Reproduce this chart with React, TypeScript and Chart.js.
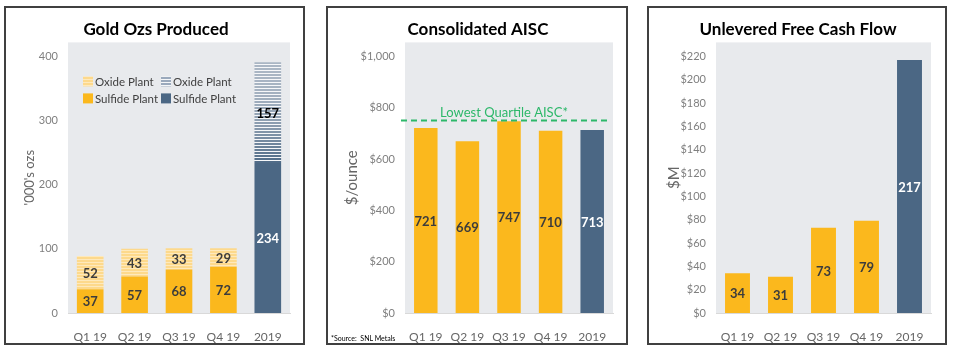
import React, { useEffect, useRef } from "react";
import { Chart, registerables } from "chart.js";

Chart.register(...registerables);

// ---------- data ----------
const categories = ["Q1 19", "Q2 19", "Q3 19", "Q4 19", "2019"];

const goldSulfideQuarter = [37, 57, 68, 72, null];
const goldOxideQuarter = [52, 43, 33, 29, null];
const goldSulfideYear = [null, null, null, null, 234];
const goldOxideYear = [null, null, null, null, 157];
const goldAxisMax = 421.8;
const goldStep = 100;

const aiscValues = [721, 669, 747, 710, 713];
const aiscQuartile = 750;
const aiscAxisMax = 1054;
const aiscStep = 200;

const fcfValues = [34, 31, 73, 79, 217];
const fcfAxisMax = 232;
const fcfStep = 20;

// ---------- styles ----------
const YELLOW = "#FBB81D";
const BLUE = "#4B6784";
const PLOT_BG = "#E8EAED";
const FONT = "Lato, 'Open Sans', sans-serif";
const TICK_COLOR = "#7F7F7F";
const XTICK_COLOR = "#666666";
const LABEL_DARK = "#3C3C3C";

function stripes(base: string, line: string, period = 3, lineH = 1) {
  const c = document.createElement("canvas");
  c.width = 8;
  c.height = period;
  const x = c.getContext("2d")!;
  x.fillStyle = base;
  x.fillRect(0, 0, 8, period);
  x.fillStyle = line;
  x.fillRect(0, period - lineH, 8, lineH);
  return x.createPattern(c, "repeat")!;
}

function mix(a: number[], b: number[], t: number) {
  const r = a.map((v, i) => Math.round(v + (b[i] - v) * t));
  return `rgb(${r[0]},${r[1]},${r[2]})`;
}

// stripes whose colour shifts from light (segment top) to dark (segment bottom)
function fadingStripes(chart: any, top: number, bottom: number) {
  const h = chart.height;
  const c = document.createElement("canvas");
  c.width = 8;
  c.height = h;
  const x = c.getContext("2d")!;
  x.fillStyle = "#F6F7F9";
  x.fillRect(0, 0, 8, h);
  const light = [170, 182, 196];
  const dark = [76, 104, 132];
  for (let y = 0; y < h; y += 3) {
    const t = Math.min(1, Math.max(0, (y - top) / Math.max(1, bottom - top)));
    x.fillStyle = mix(light, dark, Math.pow(t, 2.2));
    x.fillRect(0, y, 8, 2);
  }
  return x.createPattern(c, "repeat")!;
}

const plotBackground = {
  id: "plotBackground",
  beforeDraw(chart: any) {
    const { ctx, chartArea: a } = chart;
    ctx.save();
    ctx.fillStyle = PLOT_BG;
    ctx.fillRect(a.left, a.top, a.right - a.left, a.bottom - a.top);
    ctx.restore();
  },
};

const valueLabels = {
  id: "valueLabels",
  afterDatasetsDraw(chart: any) {
    const ctx = chart.ctx;
    ctx.save();
    ctx.font = `bold 13px ${FONT}`;
    ctx.textAlign = "center";
    ctx.textBaseline = "middle";
    chart.data.datasets.forEach((ds: any, di: number) => {
      const meta = chart.getDatasetMeta(di);
      if (meta.type !== "bar") return;
      meta.data.forEach((el: any, i: number) => {
        const v = ds.data[i];
        if (v == null) return;
        const { x, y, base } = el.getProps(["x", "y", "base"], true);
        const col = Array.isArray(ds.labelColor) ? ds.labelColor[i] : ds.labelColor;
        ctx.fillStyle = col || LABEL_DARK;
        ctx.fillText(String(v), x, (y + base) / 2 + 1);
      });
    });
    ctx.restore();
  },
};

const gridLegend = {
  id: "gridLegend",
  afterDraw(chart: any, _args: any, opts: any) {
    if (!opts || !opts.items) return;
    const { ctx, chartArea: a } = chart;
    ctx.save();
    ctx.font = `11.5px ${FONT}`;
    ctx.textBaseline = "middle";
    ctx.textAlign = "left";
    opts.items.forEach((it: any) => {
      const ds = chart.data.datasets[it.ds];
      const bx = a.left + opts.x + it.col * opts.colW;
      const by = a.top + opts.y + it.row * opts.rowH;
      ctx.fillStyle = ds.swatch;
      ctx.fillRect(bx, by, 10, 10);
      ctx.fillStyle = "#404040";
      ctx.fillText(ds.label, bx + 12, by + 5.5);
    });
    ctx.restore();
  },
};

const quartileLine = {
  id: "quartileLine",
  afterDatasetsDraw(chart: any, _args: any, opts: any) {
    if (!opts || opts.value == null) return;
    const { ctx, chartArea: a, scales } = chart;
    const y = scales.y.getPixelForValue(opts.value);
    ctx.save();
    ctx.strokeStyle = "#2DB86A";
    ctx.lineWidth = 2;
    ctx.setLineDash([6, 4]);
    ctx.beginPath();
    ctx.moveTo(a.left - 4, y);
    ctx.lineTo(a.right - 2, y);
    ctx.stroke();
    ctx.setLineDash([]);
    ctx.fillStyle = "#2DB86A";
    ctx.font = `13px ${FONT}`;
    ctx.textAlign = "center";
    ctx.textBaseline = "bottom";
    ctx.fillText(opts.text, (a.left + a.right) / 2 - 5, y - 1);
    ctx.restore();
  },
};

function baseOptions(p: {
  max: number;
  step: number;
  yTitle: string;
  yTitleSize: number;
  padLeft: number;
  yWidth: number;
  padRight: number;
  stacked: boolean;
  fmt: (v: number) => string;
  barPct: number;
  title: string;
}) {
  return {
    responsive: false,
    animation: false as const,
    layout: { padding: { left: p.padLeft, right: p.padRight, top: 0, bottom: 0 } },
    datasets: { bar: { categoryPercentage: 1, barPercentage: p.barPct } },
    plugins: {
      legend: { display: false },
      tooltip: { enabled: false },
      title: {
        display: true,
        text: p.title,
        color: "#000000",
        font: { family: FONT, size: 17, weight: "bold" as const },
        padding: { top: 11, bottom: 3 },
      },
    },
    scales: {
      x: {
        stacked: p.stacked,
        grid: { display: false },
        border: { display: true, color: "#D9D9D9" },
        ticks: { color: XTICK_COLOR, font: { family: FONT, size: 12 }, padding: 9 },
        afterFit: (s: any) => {
          s.height = 30;
        },
      },
      y: {
        stacked: p.stacked,
        min: 0,
        max: p.max,
        grid: { display: false, drawTicks: false },
        border: { display: false },
        ticks: {
          stepSize: p.step,
          includeBounds: false,
          color: TICK_COLOR,
          font: { family: FONT, size: 11 },
          padding: 10,
          callback: (v: any) => p.fmt(Number(v)),
        },
        title: {
          display: true,
          text: p.yTitle,
          color: "#666666",
          font: { family: FONT, size: p.yTitleSize },
          padding: 0,
        },
        afterFit: (s: any) => {
          s.width = p.yWidth;
        },
      },
    },
  };
}

function makeGold(): any {
  const yellowStripes = stripes("#FDD98C", "#FEE9BC");
  const blueSwatch = stripes("#9AA9BC", "#F4F6F8");
  return {
    type: "bar",
    data: {
      labels: categories,
      datasets: [
        { label: "Sulfide Plant", data: goldSulfideQuarter, backgroundColor: YELLOW, swatch: YELLOW, labelColor: LABEL_DARK },
        { label: "Oxide Plant", data: goldOxideQuarter, backgroundColor: yellowStripes, swatch: yellowStripes, labelColor: LABEL_DARK },
        { label: "Sulfide Plant", data: goldSulfideYear, backgroundColor: BLUE, swatch: BLUE, labelColor: "#FFFFFF" },
        {
          label: "Oxide Plant",
          data: goldOxideYear,
          swatch: blueSwatch,
          backgroundColor: (ctx: any) => {
            const chart = ctx.chart;
            const y = chart.scales && chart.scales.y;
            if (!y || !chart.chartArea) return blueSwatch;
            const i = goldOxideYear.length - 1;
            const lower = goldSulfideYear[i] as number;
            const upper = lower + (goldOxideYear[i] as number);
            return fadingStripes(chart, y.getPixelForValue(upper), y.getPixelForValue(lower));
          },
          labelColor: "#000000",
        },
      ],
    },
    options: {
      ...baseOptions({
        max: goldAxisMax,
        step: goldStep,
        yTitle: "'000's ozs",
        yTitleSize: 13,
        padLeft: 16,
        yWidth: 46,
        padRight: 13,
        stacked: true,
        fmt: (v) => String(v),
        barPct: 0.6,
        title: "Gold Ozs Produced",
      }),
    },
    plugins: [plotBackground, valueLabels, gridLegend],
  };
}

function withLegend(cfg: any) {
  cfg.options.plugins.gridLegend = {
    x: 15,
    y: 34,
    colW: 78,
    rowH: 17,
    items: [
      { ds: 1, col: 0, row: 0 },
      { ds: 3, col: 1, row: 0 },
      { ds: 0, col: 0, row: 1 },
      { ds: 2, col: 1, row: 1 },
    ],
  };
  return cfg;
}

function makeAisc(): any {
  const cfg: any = {
    type: "bar",
    data: {
      labels: categories,
      datasets: [
        {
          label: "AISC",
          data: aiscValues,
          backgroundColor: aiscValues.map((_, i) => (i === aiscValues.length - 1 ? BLUE : YELLOW)),
          labelColor: aiscValues.map((_, i) => (i === aiscValues.length - 1 ? "#FFFFFF" : LABEL_DARK)),
        },
      ],
    },
    options: baseOptions({
      max: aiscAxisMax,
      step: aiscStep,
      yTitle: "$/ounce",
      yTitleSize: 15,
      padLeft: 15,
      yWidth: 62,
      padRight: 13,
      stacked: false,
      fmt: (v) => "$" + v.toLocaleString("en-US"),
      barPct: 0.565,
      title: "Consolidated AISC",
    }),
    plugins: [plotBackground, valueLabels, quartileLine],
  };
  cfg.options.plugins.quartileLine = { value: aiscQuartile, text: "Lowest Quartile AISC*" };
  return cfg;
}

function makeFcf(): any {
  return {
    type: "bar",
    data: {
      labels: categories,
      datasets: [
        {
          label: "Unlevered FCF",
          data: fcfValues,
          backgroundColor: fcfValues.map((_, i) => (i === fcfValues.length - 1 ? BLUE : YELLOW)),
          labelColor: fcfValues.map((_, i) => (i === fcfValues.length - 1 ? "#FFFFFF" : LABEL_DARK)),
        },
      ],
    },
    options: baseOptions({
      max: fcfAxisMax,
      step: fcfStep,
      yTitle: "$M",
      yTitleSize: 15,
      padLeft: 16,
      yWidth: 51,
      padRight: 14,
      stacked: false,
      fmt: (v) => "$" + v,
      barPct: 0.58,
      title: "Unlevered Free Cash Flow",
    }),
    plugins: [plotBackground, valueLabels],
  };
}

function Panel({ left, width, make, children }: { left: number; width: number; make: () => any; children?: any }) {
  const ref = useRef<HTMLCanvasElement>(null);
  useEffect(() => {
    const chart = new Chart(ref.current!, make());
    return () => chart.destroy();
  }, []);
  return (
    <div
      style={{
        position: "absolute",
        left,
        top: 6,
        width,
        height: 339,
        border: "2px solid #404040",
        boxSizing: "border-box",
        background: "#fff",
      }}
    >
      <canvas ref={ref} width={width - 4} height={335} style={{ display: "block" }} />
      {children}
    </div>
  );
}

export default function App() {
  return (
    <div style={{ position: "absolute", left: 0, top: 0, width: 954, height: 352, background: "#ffffff", overflow: "hidden" }}>
      <Panel left={4} width={301} make={() => withLegend(makeGold())} />
      <Panel left={326} width={302} make={makeAisc}>
        <span
          style={{
            position: "absolute",
            left: 3,
            top: 326,
            fontFamily: FONT,
            fontSize: 7,
            color: "#000",
            whiteSpace: "pre",
          }}
        >
          {"*Source:  SNL Metals"}
        </span>
      </Panel>
      <Panel left={647} width={300} make={makeFcf} />
    </div>
  );
}
